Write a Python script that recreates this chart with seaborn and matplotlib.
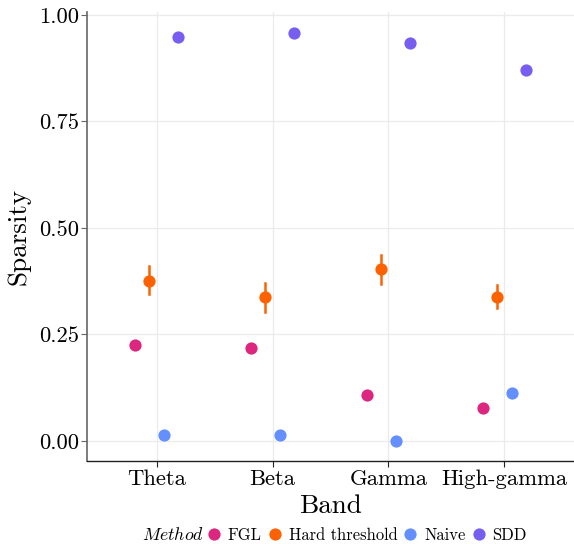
import matplotlib
matplotlib.use("Agg")
import matplotlib.pyplot as plt
import seaborn as sns
import pandas as pd
from matplotlib.lines import Line2D

bands = ["Theta", "Beta", "Gamma", "High-gamma"]
methods = ["FGL", "Hard threshold", "Naive", "SDD"]
colors = ["#dc267f", "#fe6100", "#648fff", "#785ef0"]
fgl = [0.225, 0.219, 0.108, 0.077]
hard = [0.376, 0.337, 0.403, 0.339]
hard_lo = [0.345, 0.303, 0.369, 0.312]
hard_hi = [0.410, 0.371, 0.436, 0.365]
naive = [0.014, 0.015, 0.001, 0.113]
sdd = [0.948, 0.958, 0.934, 0.871]
yticks = [0.00, 0.25, 0.50, 0.75, 1.00]
ytick_labels = ["0.00", "0.25", "0.50", "0.75", "1.00"]

rows = []
for i, b in enumerate(bands):
    rows.append((b, "FGL", fgl[i]))
    for v in (hard_lo[i], hard[i], hard_hi[i]):
        rows.append((b, "Hard threshold", v))
    rows.append((b, "Naive", naive[i]))
    rows.append((b, "SDD", sdd[i]))
df = pd.DataFrame(rows, columns=["Band", "Method", "Sparsity"])

plt.rcParams["font.family"] = ["cmr10", "DejaVu Serif"]
plt.rcParams["mathtext.fontset"] = "cm"
plt.rcParams["axes.formatter.use_mathtext"] = True

fig = plt.figure(figsize=(5.74, 5.44), dpi=100)
ax = fig.add_axes([87 / 574, 1 - 461 / 544, 487 / 574, 449 / 544])

sns.pointplot(data=df, x="Band", y="Sparsity", hue="Method", order=bands,
              hue_order=methods, palette=colors, estimator="median",
              errorbar=("pi", 100), dodge=0.375, linestyle="none",
              markers="o", markersize=8.8, markeredgewidth=0,
              err_kws={"linewidth": 1.8}, legend=False, ax=ax)

ax.set_xlim(-0.6, 3.6)
ax.set_ylim(-0.047, 1.007)
ax.set_yticks(yticks)
ax.set_yticklabels(ytick_labels)
ax.grid(True, color="#ebebeb", linewidth=0.9)
ax.set_axisbelow(True)
for s in ("top", "right"):
    ax.spines[s].set_visible(False)
ax.spines["left"].set_color("#666666")
ax.spines["left"].set_linewidth(1.2)
ax.spines["bottom"].set_color("#222222")
ax.spines["bottom"].set_linewidth(1.0)
ax.tick_params(axis="y", length=4, color="#666666", labelsize=16.3, pad=2)
ax.tick_params(axis="x", length=4, color="#222222", labelsize=16.3, pad=2)
ax.set_xlabel("Band", fontsize=19.5, labelpad=4)
ax.set_ylabel("Sparsity", fontsize=19.5, labelpad=6)

handles = [Line2D([], [], linestyle="none", marker="o", markersize=8.8,
                  markeredgewidth=0, color=c) for c in colors]
leg = fig.legend(handles, methods, loc="center left",
                 bbox_to_anchor=(207 / 574, 1 - 535 / 544), ncol=4,
                 frameon=False, fontsize=11.9, handlelength=0.8,
                 handletextpad=0.45, columnspacing=0.38, borderpad=0,
                 borderaxespad=0)
fig.text(142 / 574, 1 - 535 / 544, r"$\mathit{Method}$", fontsize=12.8,
         ha="left", va="center")

fig.savefig("out.png", dpi=100)
